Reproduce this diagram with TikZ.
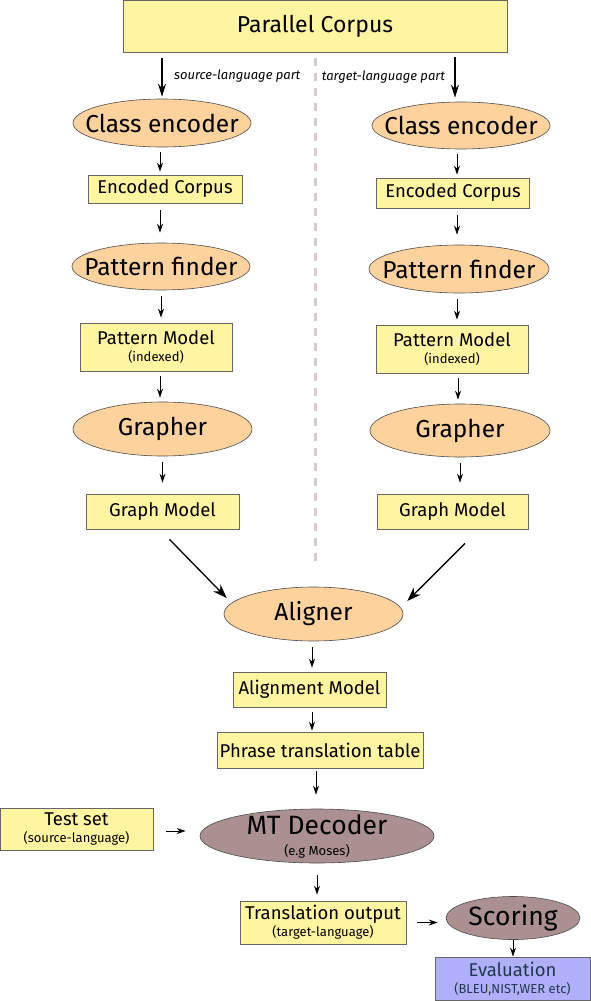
\documentclass[tikz,border=0pt]{standalone}
\usepackage{fontspec}
\setmainfont{Fira Sans}
\usetikzlibrary{arrows.meta,shapes.geometric}
\definecolor{boxy}{HTML}{FFF5A0}
\definecolor{ellp}{HTML}{FDD29C}
\definecolor{ellm}{HTML}{AA9090}
\definecolor{evalb}{HTML}{B0B0FA}
\definecolor{evalt}{HTML}{23374F}
\definecolor{dashc}{HTML}{D8CACA}
\tikzset{
  boxn/.style={draw=black!60, fill=boxy, line width=0.8pt, inner sep=0pt},
  elln/.style={draw=black!70, fill=ellp, line width=0.6pt, ellipse, inner xsep=-30pt, inner ysep=-12pt},
  ellmn/.style={draw=black!70, fill=ellm, line width=0.6pt, ellipse, inner xsep=-30pt, inner ysep=-12pt},
  bigt/.style={font=\fontsize{24.5}{26}\selectfont},
  medt/.style={font=\fontsize{18.5}{20}\selectfont},
  twol/.style={align=center, font=\fontsize{13}{17}\selectfont},
  labt/.style={font=\fontsize{13}{14}\selectfont\itshape},
  arr/.style={-{Stealth[length=9pt,width=6pt]}, line width=0.9pt},
  toparr/.style={-{Stealth[length=13pt,width=8pt]}, line width=1.4pt},
  bigarr/.style={-{Stealth[length=14pt,width=10pt]}, line width=1.3pt},
}
\newcommand{\mtl}[2]{{\fontsize{18.5}{18.5}\selectfont #1}\\#2}
\begin{document}
\begin{tikzpicture}[x=1pt,y=-1pt]
\useasboundingbox (0,0) rectangle (591,1001);
% dashed separator
\coordinate (dtop) at (315,58);
\coordinate (dbot) at (315,564);
\draw[dashc, line width=3pt, dash pattern=on 8pt off 7pt] (dtop) -- (dbot);
% top box
\node[boxn, minimum width=384pt, minimum height=52pt, font=\fontsize{23}{24}\selectfont] (pc) at (315,26) {Parallel Corpus};
% left column
\node[elln, minimum width=178pt, minimum height=48pt, bigt] (ce1) at (162,123) {Class encoder};
\node[boxn, minimum width=154pt, minimum height=28pt, medt] (ec1) at (165,189) {Encoded Corpus};
\node[elln, minimum width=178pt, minimum height=47pt, bigt] (pf1) at (161,266.5) {Pattern finder};
\node[boxn, minimum width=152pt, minimum height=48pt, twol] (pm1) at (156,347) {\mtl{Pattern Model}{(indexed)}};
\node[elln, minimum width=179pt, minimum height=54pt, bigt] (gr1) at (162.5,429) {Grapher};
\node[boxn, minimum width=153pt, minimum height=35pt, medt] (gm1) at (162.5,511.5) {Graph Model};
% right column
\node[elln, minimum width=178pt, minimum height=47pt, bigt] (ce2) at (461,125.5) {Class encoder};
\node[boxn, minimum width=153pt, minimum height=30pt, medt] (ec2) at (453,193) {Encoded Corpus};
\node[elln, minimum width=180pt, minimum height=48pt, bigt] (pf2) at (459,269) {Pattern finder};
\node[boxn, minimum width=152pt, minimum height=48pt, twol] (pm2) at (452,349) {\mtl{Pattern Model}{(indexed)}};
\node[elln, minimum width=180pt, minimum height=53pt, bigt] (gr2) at (460,430.5) {Grapher};
\node[boxn, minimum width=151pt, minimum height=35pt, medt] (gm2) at (452.5,511.5) {Graph Model};
% merge
\node[elln, minimum width=179pt, minimum height=54pt, bigt] (al) at (313.5,614) {Aligner};
\node[boxn, minimum width=153pt, minimum height=35pt, medt] (am) at (309.5,689.5) {Alignment Model};
\node[boxn, minimum width=206pt, minimum height=36pt, medt] (pt) at (320,750) {Phrase translation table};
\node[ellmn, minimum width=234pt, minimum height=54pt, align=center, font=\fontsize{13}{21}\selectfont] (md) at (317,836) {{\fontsize{26.5}{26}\selectfont MT Decoder}\\(e.g Moses)};
\node[boxn, minimum width=153pt, minimum height=42pt, twol] (ts) at (76.5,829) {\mtl{Test set}{(source-language)}};
\node[boxn, minimum width=166pt, minimum height=43pt, twol] (to) at (323,922.5) {\mtl{Translation output}{(target-language)}};
\node[ellmn, minimum width=134pt, minimum height=43pt, font=\fontsize{26.5}{27}\selectfont] (sc) at (513,918) {Scoring};
\node[draw=black!60, fill=evalb, line width=0.8pt, minimum width=155pt, minimum height=43pt, twol, text=evalt] (ev) at (512.5,978.5) {\mtl{Evaluation}{(BLEU,NIST,WER etc)}};
% connectors top
\draw[toparr, shorten <=6pt, shorten >=2pt] (ce1.north |- pc.south) -- node[right=8pt, labt, text=black]{source-language part} (ce1.north);
\draw[toparr, shorten <=5pt, shorten >=4pt] ([xshift=-6pt]ce2.north |- pc.south) -- node[left=6pt, labt, text=black]{target-language part} ([xshift=-6pt]ce2.north);
% left chain
\draw[arr, shorten <=5pt, shorten >=3pt] ([xshift=-2pt]ce1.south) -- ([xshift=-2pt]ce1.south |- ec1.north);
\draw[arr, shorten <=7pt, shorten >=10pt] ([xshift=-5pt]ec1.south) -- ([xshift=-5pt]ec1.south |- pf1.north);
\draw[arr, shorten <=6pt, shorten >=5pt] (pf1.south) -- (pf1.south |- pm1.north);
\draw[arr, shorten <=5pt, shorten >=4pt] ([xshift=4pt]pm1.south) -- ([xshift=4pt]pm1.south |- gr1.north);
\draw[arr, shorten <=6pt, shorten >=11pt] (gr1.south) -- (gr1.south |- gm1.north);
% right chain
\draw[arr, shorten <=5pt, shorten >=3pt] ([xshift=-4pt]ce2.south) -- ([xshift=-4pt]ce2.south |- ec2.north);
\draw[arr, shorten <=7pt, shorten >=10pt] ([xshift=4pt]ec2.south) -- ([xshift=4pt]ec2.south |- pf2.north);
\draw[arr, shorten <=6pt, shorten >=5pt] ([xshift=-2pt]pf2.south) -- ([xshift=-2pt]pf2.south |- pm2.north);
\draw[arr, shorten <=5pt, shorten >=4pt] ([xshift=6pt]pm2.south) -- ([xshift=6pt]pm2.south |- gr2.north);
\draw[arr, shorten <=6pt, shorten >=11pt] (gr2.south) -- (gr2.south |- gm2.north);
% merge arrows
\draw[bigarr] ([xshift=7pt,yshift=-10pt]gm1.south) -- ([xshift=3pt,yshift=16pt]al.west);
\draw[bigarr] ([xshift=12.5pt,yshift=-14pt]gm2.south) -- ([xshift=4pt,yshift=13pt]al.east);
% lower chain
\draw[arr, shorten <=6pt, shorten >=4pt] ([xshift=-1.5pt]al.south) -- ([xshift=-1.5pt]al.south |- am.north);
\draw[arr, shorten <=5pt, shorten >=1pt] ([xshift=2.5pt]am.south) -- ([xshift=2.5pt]am.south |- pt.north);
\draw[arr, shorten <=3pt, shorten >=14pt] ([xshift=-4pt]pt.south) -- ([xshift=-4pt]pt.south |- md.north);
\draw[arr, shorten <=13pt, shorten >=14pt] ([yshift=-2pt]ts.east) -- ([yshift=-2pt]ts.east -| md.west);
\draw[arr, shorten <=12pt, shorten >=6pt] (md.south) -- (md.south |- to.north);
\draw[arr, shorten <=11pt, shorten >=8pt] (to.east) -- (to.east -| sc.west);
\draw[arr] (sc.south) -- (sc.south |- ev.north);
\end{tikzpicture}
\end{document}
